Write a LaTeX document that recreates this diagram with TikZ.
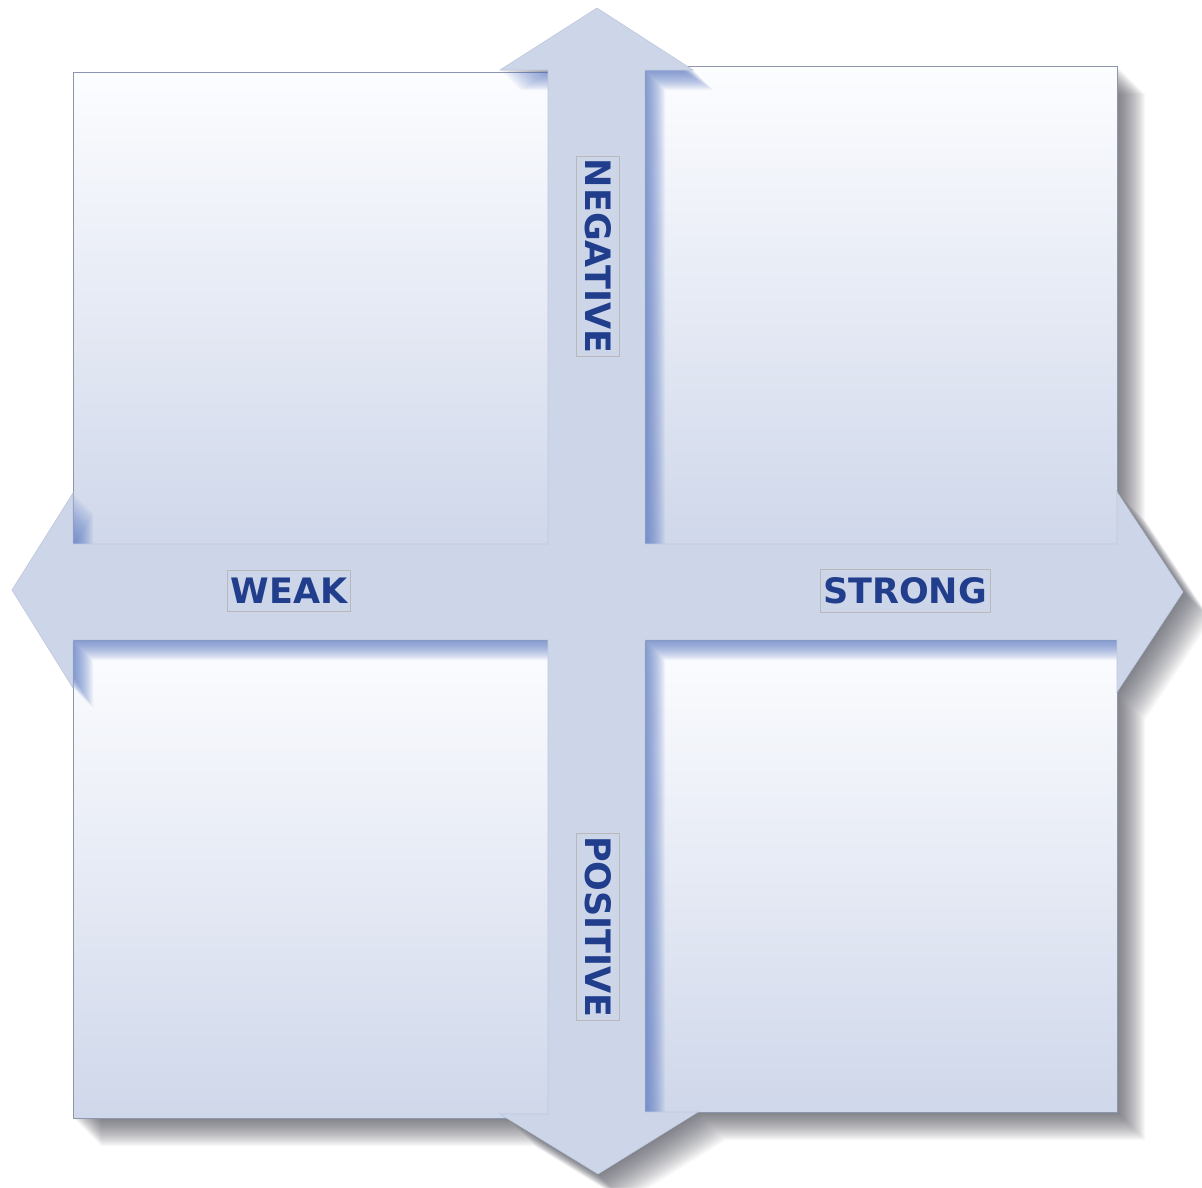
\documentclass[tikz,border=0pt]{standalone}
\usepackage{fontspec}
\setmainfont{DejaVu Sans}
\definecolor{bandc}{RGB}{205,213,233}
\definecolor{bandedge}{RGB}{190,199,222}
\definecolor{boxtop}{RGB}{252,253,255}
\definecolor{boxbot}{RGB}{207,215,234}
\definecolor{boxedge}{RGB}{140,150,172}
\definecolor{lblc}{RGB}{32,62,140}
\definecolor{shblue}{RGB}{80,112,192}
\definecolor{shgray}{RGB}{60,62,75}
\tikzset{
  outlinepath/.style={insert path={(597,8) -- (693,70) -- (645,70) -- (645,66) -- (1117,66) -- (1117,492) -- (1183,592) -- (1117,692) -- (1117,1112) -- (698,1112) -- (598,1174) -- (500,1114) -- (548,1114) -- (548,1118) -- (73,1118) -- (73,688) -- (12,590) -- (73,493) -- (73,72) -- (500,72) -- (500,70) -- cycle}},
  crosspath/.style={insert path={(597,8) -- (693,70) -- (645,70) -- (645,544) -- (1117,544) -- (1117,492) -- (1183,592) -- (1117,692) -- (1117,640) -- (645,640) -- (645,1112) -- (698,1112) -- (598,1174) -- (500,1114) -- (548,1114) -- (548,640) -- (73,640) -- (73,688) -- (12,590) -- (73,493) -- (73,544) -- (548,544) -- (548,70) -- (500,70) -- cycle}},
  quad/.style={top color=boxtop, bottom color=boxbot, draw=boxedge, line width=0.9pt},
  band/.style={fill=bandc, draw=bandedge, line width=0.6pt, line join=miter},
  lbl/.style={draw=gray!55, line width=0.6pt, text=lblc, inner xsep=3pt, inner ysep=8pt,
    font=\bfseries\fontsize{35}{40}\selectfont}
}
\begin{document}
\begin{tikzpicture}[x=1pt,y=-1pt]
\useasboundingbox (0,0) rectangle (1202,1187);
\fill[white] (0,0) rectangle (1202,1187);
% outer soft shadow
\foreach \d in {1,...,28}{
  \fill[shgray, opacity=0.03, shift={(\d,\d)}] [outlinepath];
}
% quadrant boxes
\path[quad] (73,72) rectangle (550,546);
\path[quad] (645,66) rectangle (1117,546);
\path[quad] (73,640) rectangle (548,1118);
\path[quad] (645,640) rectangle (1117,1112);
% blue shadow of the cross on the boxes
\begin{scope}
  \clip (73,72) rectangle (550,546) (645,66) rectangle (1117,546) (73,640) rectangle (548,1118) (645,640) rectangle (1117,1112);
  \foreach \d in {1,...,20}{
    \fill[shblue, opacity=0.05, shift={(\d,\d)}] [crosspath];
  }
\end{scope}
% the cross of double arrows
\path[band] [crosspath];
% labels
\node[lbl, rotate=-90] (neg) at (598,256) {NEGATIVE};
\node[lbl, rotate=-90] (pos) at (598,927) {POSITIVE};
\node[lbl] (weak) at (289,591) {WEAK};
\node[lbl] (strong) at (905,591) {STRONG};
\end{tikzpicture}
\end{document}
